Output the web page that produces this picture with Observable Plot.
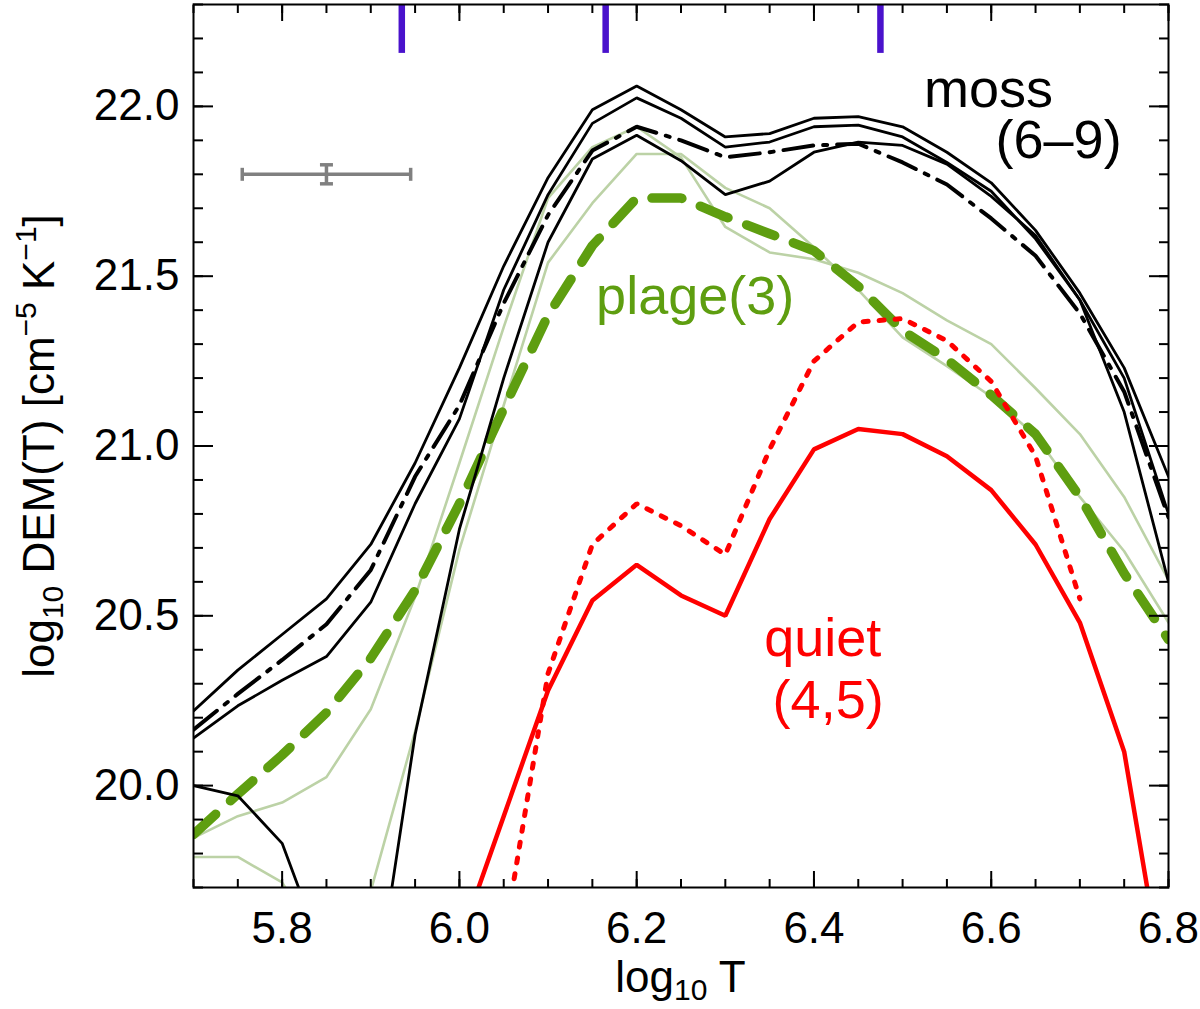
<!DOCTYPE html>
<html>
<head>
<meta charset="utf-8">
<script src="https://cdn.jsdelivr.net/npm/d3@7"></script>
<script src="https://cdn.jsdelivr.net/npm/@observablehq/plot@0.6"></script>
<style>
  body { margin: 0; background: #fff; }
  #chart svg { display: block; }
</style>
</head>
<body>
<div id="chart"></div>
<script>
// temperature grid (log10 T)
const logT = [5.70, 5.75, 5.80, 5.85, 5.90, 5.95, 6.00, 6.05, 6.10, 6.15, 6.20, 6.25,
              6.30, 6.35, 6.40, 6.45, 6.50, 6.55, 6.60, 6.65, 6.70, 6.75, 6.80];

// moss regions (6-9), black
const mossHi   = [20.22, 20.34, 20.445, 20.55, 20.71, 20.95, 21.23, 21.53, 21.79, 21.99, 22.06, 21.99,
                  21.91, 21.92, 21.965, 21.97, 21.94, 21.865, 21.775, 21.635, 21.45, 21.23, 20.91];
const mossMid  = [20.14, 20.235, 20.31, 20.38, 20.54, 20.83, 21.08, 21.46, 21.74, 21.95, 22.025, 21.965,
                  21.88, 21.895, 21.94, 21.945, 21.91, 21.835, 21.75, 21.61, 21.43, 21.20, 20.80];
const mossLo   = [20.00, 19.97, 19.83, 19.48, 19.29, 20.15, 20.755, 21.20, 21.60, 21.845, 21.915, 21.84,
                  21.74, 21.78, 21.865, 21.895, 21.885, 21.83, 21.735, 21.62, 21.43, 21.10, 20.60];
const mossMean = [20.165, 20.27, 20.37, 20.475, 20.635, 20.91, 21.12, 21.42, 21.68, 21.87, 21.94, 21.90,
                  21.85, 21.865, 21.885, 21.89, 21.835, 21.77, 21.67, 21.56, 21.39, 21.16, 20.79];

// plage (3), green
const plageA    = [19.846, 19.91, 19.95, 20.025, 20.225, 20.555, 20.95, 21.35, 21.73, 21.88, 21.94, 21.85,
                   21.645, 21.57, 21.55, 21.51, 21.45, 21.37, 21.30, 21.17, 21.035, 20.85, 20.605];
const plageB    = [19.79, 19.79, 19.715, 19.50, 19.69, 20.16, 20.695, 21.12, 21.54, 21.715, 21.86, 21.86,
                   21.76, 21.70, 21.585, 21.46, 21.32, 21.235, 21.145, 21.03, 20.85, 20.69, 20.48];
const plageMean = [19.856, 19.975, 20.09, 20.215, 20.375, 20.575, 20.83, 21.11, 21.385, 21.59, 21.73, 21.73,
                   21.675, 21.625, 21.575, 21.47, 21.34, 21.255, 21.15, 21.035, 20.85, 20.625, 20.43];

// quiet (4,5), red
const quietSolid  = [null, null, null, null, null, null, 19.54, 19.91, 20.28, 20.545, 20.65, 20.56,
                     20.50, 20.785, 20.99, 21.05, 21.035, 20.97, 20.87, 20.71, 20.48, 20.10, 19.33];
const quietDotted = [null, null, null, null, null, null, null, 19.54, 20.33, 20.71, 20.83, 20.765,
                     20.68, 20.99, 21.25, 21.365, 21.375, 21.31, 21.19, 20.97, 20.55, null, null];

// line formation temperatures marked at the top
const lineTemps = [5.935, 6.165, 6.475];
const markerFrom = 22.156;

// typical uncertainty
const errBar = [{x: 5.85, y: 21.80, dx: 0.095, dy: 0.028}];

// tick positions
const xMajor = [5.8, 6.0, 6.2, 6.4, 6.6, 6.8];
const xMinor = d3.range(114, 137).map(d => d / 20);
const yMajor = [20.0, 20.5, 21.0, 21.5, 22.0];
const yMinor = d3.range(197, 224).map(d => d / 10);

const labels = [
  {x: 6.597, y: 21.997, text: "moss", color: "#000"},
  {x: 6.676, y: 21.847, text: "(6\u20139)", color: "#000"},
  {x: 6.266, y: 21.39, text: "plage(3)", color: "#5e9e10"},
  {x: 6.41, y: 20.383, text: "quiet", color: "#ff0000"},
  {x: 6.416, y: 20.198, text: "(4,5)", color: "#ff0000"}
];

const rows = vals => logT.map((x, i) => ({x, y: vals[i]})).filter(d => d.y != null);

const lightGreen = "#bcd2a6";
const plageGreen = "#5e9e10";

function line(vals, opts) {
  return Plot.line(rows(vals), {x: "x", y: "y", clip: true, strokeLinejoin: "miter", ...opts});
}

// little bar symbols for the error bar caps
const vbar = {draw(ctx, size) { const h = Math.sqrt(size / Math.PI); ctx.moveTo(0, -h); ctx.lineTo(0, h); }};
const hbar = {draw(ctx, size) { const h = Math.sqrt(size / Math.PI); ctx.moveTo(-h, 0); ctx.lineTo(h, 0); }};

const blank = () => "";

const chart = Plot.plot({
  width: 1200,
  height: 1009,
  marginLeft: 193,
  marginRight: 32,
  marginTop: 4,
  marginBottom: 122,
  x: {domain: [5.7, 6.8]},
  y: {domain: [19.7, 22.3]},
  style: {fontFamily: "'Liberation Sans', Arial, Helvetica, sans-serif", background: "white", color: "black"},
  marks: [
    // plage
    line(plageA, {stroke: lightGreen, strokeWidth: 2.6}),
    line(plageB, {stroke: lightGreen, strokeWidth: 2.6}),
    line(plageMean, {stroke: plageGreen, strokeWidth: 9.5, strokeDasharray: "30,20"}),
    // moss
    line(mossHi, {stroke: "black", strokeWidth: 2.8}),
    line(mossMid, {stroke: "black", strokeWidth: 2.8}),
    line(mossLo, {stroke: "black", strokeWidth: 2.8}),
    line(mossMean, {stroke: "black", strokeWidth: 4, strokeDasharray: "30,10,4,10"}),
    // quiet
    line(quietDotted, {stroke: "#ff0000", strokeWidth: 5, strokeDasharray: "5,11"}),
    line(quietSolid, {stroke: "#ff0000", strokeWidth: 4.5}),

    // error bar
    Plot.link(errBar, {x1: d => d.x - d.dx, x2: d => d.x + d.dx, y1: "y", y2: "y", stroke: "#808080", strokeWidth: 3.5}),
    Plot.link(errBar, {x1: "x", x2: "x", y1: d => d.y - d.dy, y2: d => d.y + d.dy, stroke: "#808080", strokeWidth: 3.5}),
    Plot.dot(errBar.flatMap(d => [{x: d.x - d.dx, y: d.y}, {x: d.x + d.dx, y: d.y}]),
      {x: "x", y: "y", symbol: vbar, r: 6.5, stroke: "#808080", strokeWidth: 3.5, fill: "none"}),
    Plot.dot(errBar.flatMap(d => [{x: d.x, y: d.y - d.dy}, {x: d.x, y: d.y + d.dy}]),
      {x: "x", y: "y", symbol: hbar, r: 6.5, stroke: "#808080", strokeWidth: 3.5, fill: "none"}),

    // line temperature markers
    Plot.ruleX(lineTemps, {y1: markerFrom, y2: 22.3, stroke: "#4a12cc", strokeWidth: 6.5}),

    // region labels
    Plot.text(labels, {x: "x", y: "y", text: "text", fill: "color", fontSize: 54, textAnchor: "middle", lineAnchor: "bottom"}),

    // axes: labels
    Plot.axisX(xMajor, {anchor: "bottom", tickSize: 0, tickPadding: 24, tickFormat: d3.format(".1f"), fontSize: 44, label: null}),
    Plot.axisY(yMajor, {anchor: "left", tickSize: 0, tickPadding: 14, tickFormat: d3.format(".1f"), fontSize: 44, label: null}),
    // axes: inward ticks
    Plot.axisX(xMajor, {anchor: "bottom", tickSize: -16, tickFormat: blank, label: null, strokeWidth: 2}),
    Plot.axisX(xMinor, {anchor: "bottom", tickSize: -8, tickFormat: blank, label: null, strokeWidth: 2}),
    Plot.axisX(xMajor, {anchor: "top", tickSize: -16, tickFormat: blank, label: null, strokeWidth: 2}),
    Plot.axisX(xMinor, {anchor: "top", tickSize: -8, tickFormat: blank, label: null, strokeWidth: 2}),
    Plot.axisY(yMajor, {anchor: "left", tickSize: -20, tickFormat: blank, label: null, strokeWidth: 2}),
    Plot.axisY(yMinor, {anchor: "left", tickSize: -10, tickFormat: blank, label: null, strokeWidth: 2}),
    Plot.axisY(yMajor, {anchor: "right", tickSize: -20, tickFormat: blank, label: null, strokeWidth: 2}),
    Plot.axisY(yMinor, {anchor: "right", tickSize: -10, tickFormat: blank, label: null, strokeWidth: 2}),
    Plot.frame({stroke: "black", strokeWidth: 2})
  ]
});

document.getElementById("chart").append(chart);

// axis titles with sub/superscripts
const svg = d3.select(chart);
const font = "'Liberation Sans', Arial, Helvetica, sans-serif";

const xt = svg.append("text")
  .attr("x", 680.5).attr("y", 992)
  .attr("text-anchor", "middle")
  .attr("font-family", font).attr("font-size", 44).attr("fill", "black");
xt.append("tspan").text("log");
xt.append("tspan").attr("font-size", 30).attr("dy", 8).text("10");
xt.append("tspan").attr("dy", -8).text(" T");

const yt = svg.append("text")
  .attr("transform", "translate(54,446) rotate(-90)")
  .attr("text-anchor", "middle")
  .attr("font-family", font).attr("font-size", 44).attr("fill", "black");
yt.append("tspan").text("log");
yt.append("tspan").attr("font-size", 30).attr("dy", 9).text("10");
yt.append("tspan").attr("dy", -9).text(" DEM(T) [cm");
yt.append("tspan").attr("font-size", 30).attr("dy", -18).text("\u22125");
yt.append("tspan").attr("dy", 18).text(" K");
yt.append("tspan").attr("font-size", 30).attr("dy", -18).text("\u22121");
yt.append("tspan").attr("dy", 18).text("]");
</script>
</body>
</html>
